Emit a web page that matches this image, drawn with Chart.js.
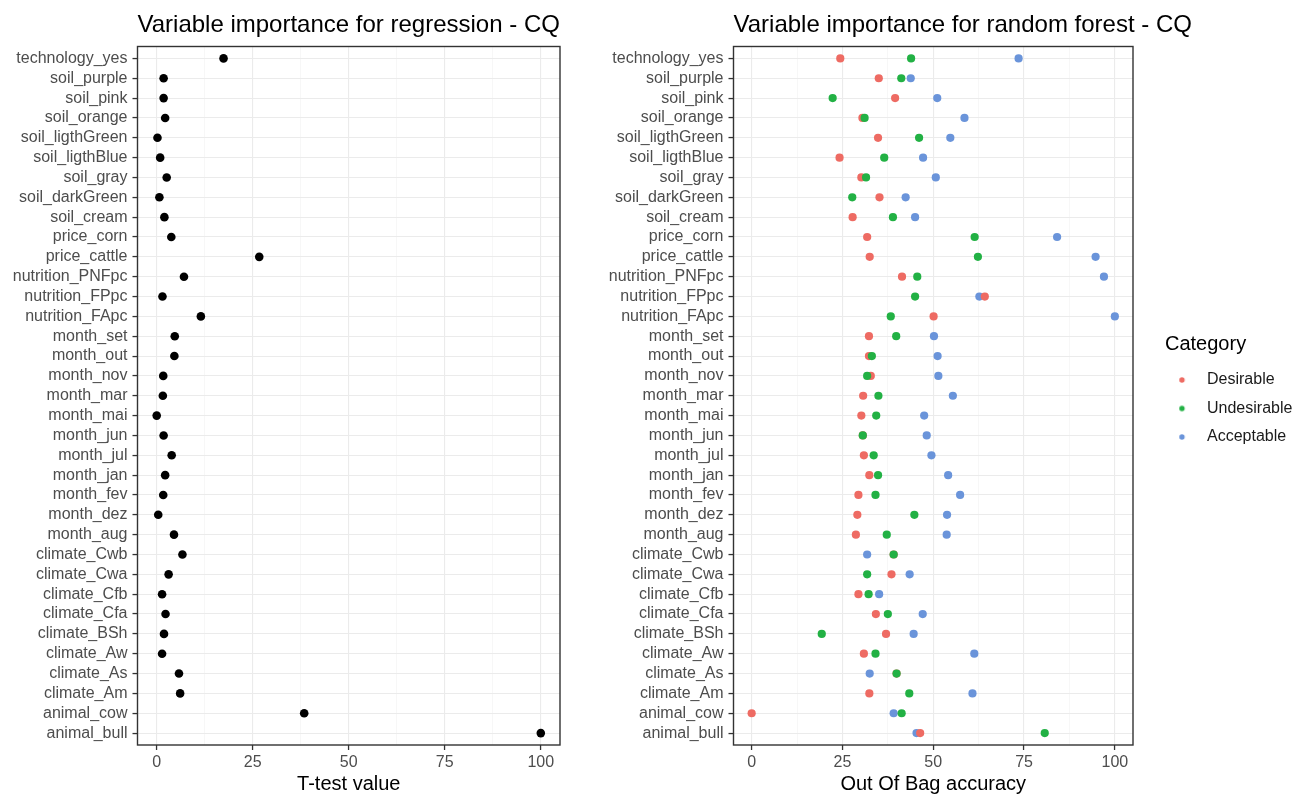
<!DOCTYPE html>
<html>
<head>
<meta charset="utf-8">
<script src="https://cdn.jsdelivr.net/npm/chart.js@4.4.1/dist/chart.umd.min.js"></script>
<style>
html, body { margin: 0; padding: 0; background: #fff; overflow: hidden; width: 1303px; height: 795px; }
canvas { position: absolute; top: 0; }
#leftChart { left: 0; }
#rightChart { left: 600px; }
</style>
</head>
<body>
<canvas id="leftChart" width="600" height="795"></canvas>
<canvas id="rightChart" width="699" height="795"></canvas>
<script>
// ---------- data ----------
const categories = [
  'technology_yes', 'soil_purple', 'soil_pink', 'soil_orange', 'soil_ligthGreen',
  'soil_ligthBlue', 'soil_gray', 'soil_darkGreen', 'soil_cream', 'price_corn',
  'price_cattle', 'nutrition_PNFpc', 'nutrition_FPpc', 'nutrition_FApc', 'month_set',
  'month_out', 'month_nov', 'month_mar', 'month_mai', 'month_jun',
  'month_jul', 'month_jan', 'month_fev', 'month_dez', 'month_aug',
  'climate_Cwb', 'climate_Cwa', 'climate_Cfb', 'climate_Cfa', 'climate_BSh',
  'climate_Aw', 'climate_As', 'climate_Am', 'animal_cow', 'animal_bull'
];

const tTestValues = [
  17.4, 1.8, 1.8, 2.2, 0.2,
  0.9, 2.6, 0.7, 2.0, 3.8,
  26.7, 7.1, 1.5, 11.5, 4.7,
  4.6, 1.7, 1.6, 0.0, 1.8,
  3.9, 2.2, 1.7, 0.4, 4.5,
  6.7, 3.1, 1.4, 2.3, 1.9,
  1.4, 5.8, 6.1, 38.4, 100
];

const desirable = [
  24.4, 35.0, 39.5, 30.5, 34.8,
  24.2, 30.2, 35.2, 27.8, 31.8,
  32.5, 41.4, 64.2, 50.1, 32.3,
  32.3, 32.8, 30.7, 30.2, 30.6,
  30.9, 32.4, 29.4, 29.1, 28.7,
  39.1, 38.5, 29.4, 34.2, 37.0,
  30.9, 39.9, 32.4, 0.0, 46.4
];

const undesirable = [
  43.9, 41.2, 22.3, 31.1, 46.1,
  36.5, 31.5, 27.7, 38.9, 61.4,
  62.3, 45.6, 45.0, 38.3, 39.8,
  33.1, 31.8, 34.9, 34.3, 30.6,
  33.6, 34.8, 34.1, 44.8, 37.2,
  39.1, 31.8, 32.2, 37.5, 19.3,
  34.1, 39.9, 43.4, 41.3, 80.7
];

const acceptable = [
  73.5, 43.8, 51.1, 58.6, 54.7,
  47.2, 50.7, 42.4, 45.0, 84.1,
  94.7, 97.0, 62.7, 100, 50.2,
  51.2, 51.4, 55.4, 47.5, 48.2,
  49.5, 54.1, 57.4, 53.8, 53.7,
  31.8, 43.5, 35.1, 47.1, 44.6,
  61.3, 32.5, 60.8, 39.1, 45.4
];

const seriesNames = ['Desirable', 'Undesirable', 'Acceptable'];
const xMajorTicks = [0, 25, 50, 75, 100];
const xMinorTicks = [12.5, 37.5, 62.5, 87.5];

const leftTitle = 'Variable importance for regression - CQ';
const rightTitle = 'Variable importance for random forest - CQ';
const leftXTitle = 'T-test value';
const rightXTitle = 'Out Of Bag accuracy';
const legendTitle = 'Category';

// ---------- styling ----------
const FONT = '"Liberation Sans", Arial, Helvetica, sans-serif';
Chart.defaults.font.family = FONT;
const seriesColors = ['#EE6B63', '#22B144', '#6A94DA'];
const GRID = '#EBEBEB';
const GRID_MINOR = '#F3F3F3';
const AXIS_DARK = '#333333';
const TICK_TEXT = '#4D4D4D';

const panelBorder = {
  id: 'panelBorder',
  afterDatasetsDraw(chart) {
    const { ctx, chartArea: a } = chart;
    ctx.save();
    ctx.strokeStyle = AXIS_DARK;
    ctx.lineWidth = 1.4;
    ctx.strokeRect(a.left, a.top, a.right - a.left, a.bottom - a.top);
    ctx.restore();
  }
};

// panel title, left-aligned to the panel like ggplot (not squeezed to panel width)
const panelTitle = {
  id: 'panelTitle',
  afterDraw(chart, args, opts) {
    const { ctx, chartArea: a } = chart;
    ctx.save();
    ctx.font = '24px ' + FONT;
    ctx.fillStyle = '#000';
    ctx.textAlign = 'left';
    ctx.textBaseline = 'alphabetic';
    ctx.fillText(opts.text, a.left, 31.7);
    ctx.restore();
  }
};

function isMajor(v) { return xMajorTicks.includes(v); }

function xScale(titleText) {
  return {
    type: 'linear',
    min: -5,
    max: 105,
    afterBuildTicks: (s) => {
      s.ticks = xMajorTicks.concat(xMinorTicks).sort((a, b) => a - b).map(v => ({ value: v }));
    },
    afterFit: (s) => { s.height = 50; },
    ticks: {
      autoSkip: false,
      maxRotation: 0,
      padding: 3,
      color: TICK_TEXT,
      font: { size: 16 },
      callback: (v) => isMajor(v) ? String(v) : ''
    },
    grid: {
      color: (c) => (c.tick && isMajor(c.tick.value)) ? GRID : GRID_MINOR,
      lineWidth: (c) => (c.tick && isMajor(c.tick.value)) ? 1.1 : 0.7,
      tickColor: (c) => (c.tick && isMajor(c.tick.value)) ? AXIS_DARK : 'rgba(0,0,0,0)',
      tickLength: 5,
      tickWidth: 1.3,
      drawTicks: true
    },
    border: { display: false },
    title: {
      display: true,
      text: titleText,
      color: '#000',
      font: { size: 20, lineHeight: 1 },
      padding: { top: 0, bottom: 0.5 }
    }
  };
}

function yScale(width) {
  return {
    type: 'linear',
    reverse: true,
    min: -0.6,
    max: categories.length - 1 + 0.6,
    afterBuildTicks: (s) => { s.ticks = categories.map((c, i) => ({ value: i })); },
    afterFit: (s) => { s.width = width; },
    ticks: {
      autoSkip: false,
      padding: 5,
      color: TICK_TEXT,
      font: { size: 16 },
      callback: (v) => categories[v]
    },
    grid: {
      color: GRID,
      lineWidth: 1.1,
      tickColor: AXIS_DARK,
      tickLength: 5,
      tickWidth: 1.3,
      drawTicks: true
    },
    border: { display: false }
  };
}

// ---------- left chart ----------
new Chart(document.getElementById('leftChart'), {
  type: 'scatter',
  data: {
    datasets: [{
      label: 'T-test',
      data: tTestValues.map((v, i) => ({ x: v, y: i })),
      backgroundColor: '#000',
      borderWidth: 0,
      pointRadius: 4.3,
      pointHoverRadius: 4.3
    }]
  },
  options: {
    responsive: false,
    animation: false,
    events: [],
    layout: { padding: { top: 46.5, right: 40, bottom: 0, left: 0 } },
    scales: { x: xScale(leftXTitle), y: yScale(137.5) },
    plugins: {
      legend: { display: false },
      tooltip: { enabled: false },
      title: { display: false },
      panelTitle: { text: leftTitle }
    }
  },
  plugins: [panelBorder, panelTitle]
});

// ---------- right chart ----------
function legendDot(color) {
  const c = document.createElement('canvas');
  c.width = 22; c.height = 10;
  const g = c.getContext('2d');
  g.fillStyle = color;
  g.beginPath();
  g.arc(4.75, 5, 2.7, 0, Math.PI * 2);
  g.fill();
  return c;
}
const legendDots = seriesColors.map(legendDot);

const seriesValues = [desirable, undesirable, acceptable];
const drawOrder = [1, 0, 2];   // green on top, then red, blue at bottom

new Chart(document.getElementById('rightChart'), {
  type: 'scatter',
  data: {
    datasets: seriesNames.map((name, k) => ({
      label: name,
      data: seriesValues[k].map((v, i) => ({ x: v, y: i })),
      backgroundColor: seriesColors[k],
      borderWidth: 0,
      pointRadius: 4.1,
      pointHoverRadius: 4.1,
      order: drawOrder[k]
    }))
  },
  options: {
    responsive: false,
    animation: false,
    events: [],
    layout: { padding: { top: 46.5, right: 0, bottom: 0, left: 0 } },
    scales: {
      x: xScale(rightXTitle),
      y: yScale(133.5),
      gap: {
        type: 'linear',
        position: 'right',
        display: true,
        ticks: { display: false },
        grid: { display: false },
        border: { display: false },
        afterFit: (s) => { s.width = 32; }
      }
    },
    plugins: {
      tooltip: { enabled: false },
      title: { display: false },
      panelTitle: { text: rightTitle },
      legend: {
        display: true,
        position: 'right',
        align: 'center',
        fullSize: false,
        maxWidth: 134,
        title: {
          display: true,
          text: legendTitle,
          position: 'start',
          color: '#000',
          font: { size: 20, lineHeight: 1.2 },
          padding: { top: 0, bottom: 1.5 }
        },
        labels: {
          usePointStyle: true,
          pointStyleWidth: 21.5,
          padding: 12.5,
          color: '#1A1A1A',
          font: { size: 16 },
          generateLabels: (chart) => chart.data.datasets.map((ds, i) => ({
            text: ds.label,
            fillStyle: ds.backgroundColor,
            strokeStyle: ds.backgroundColor,
            lineWidth: 0,
            pointStyle: legendDots[i],
            hidden: false,
            datasetIndex: i,
            fontColor: '#1A1A1A'
          }))
        }
      }
    }
  },
  plugins: [panelBorder, panelTitle]
});
</script>
</body>
</html>
